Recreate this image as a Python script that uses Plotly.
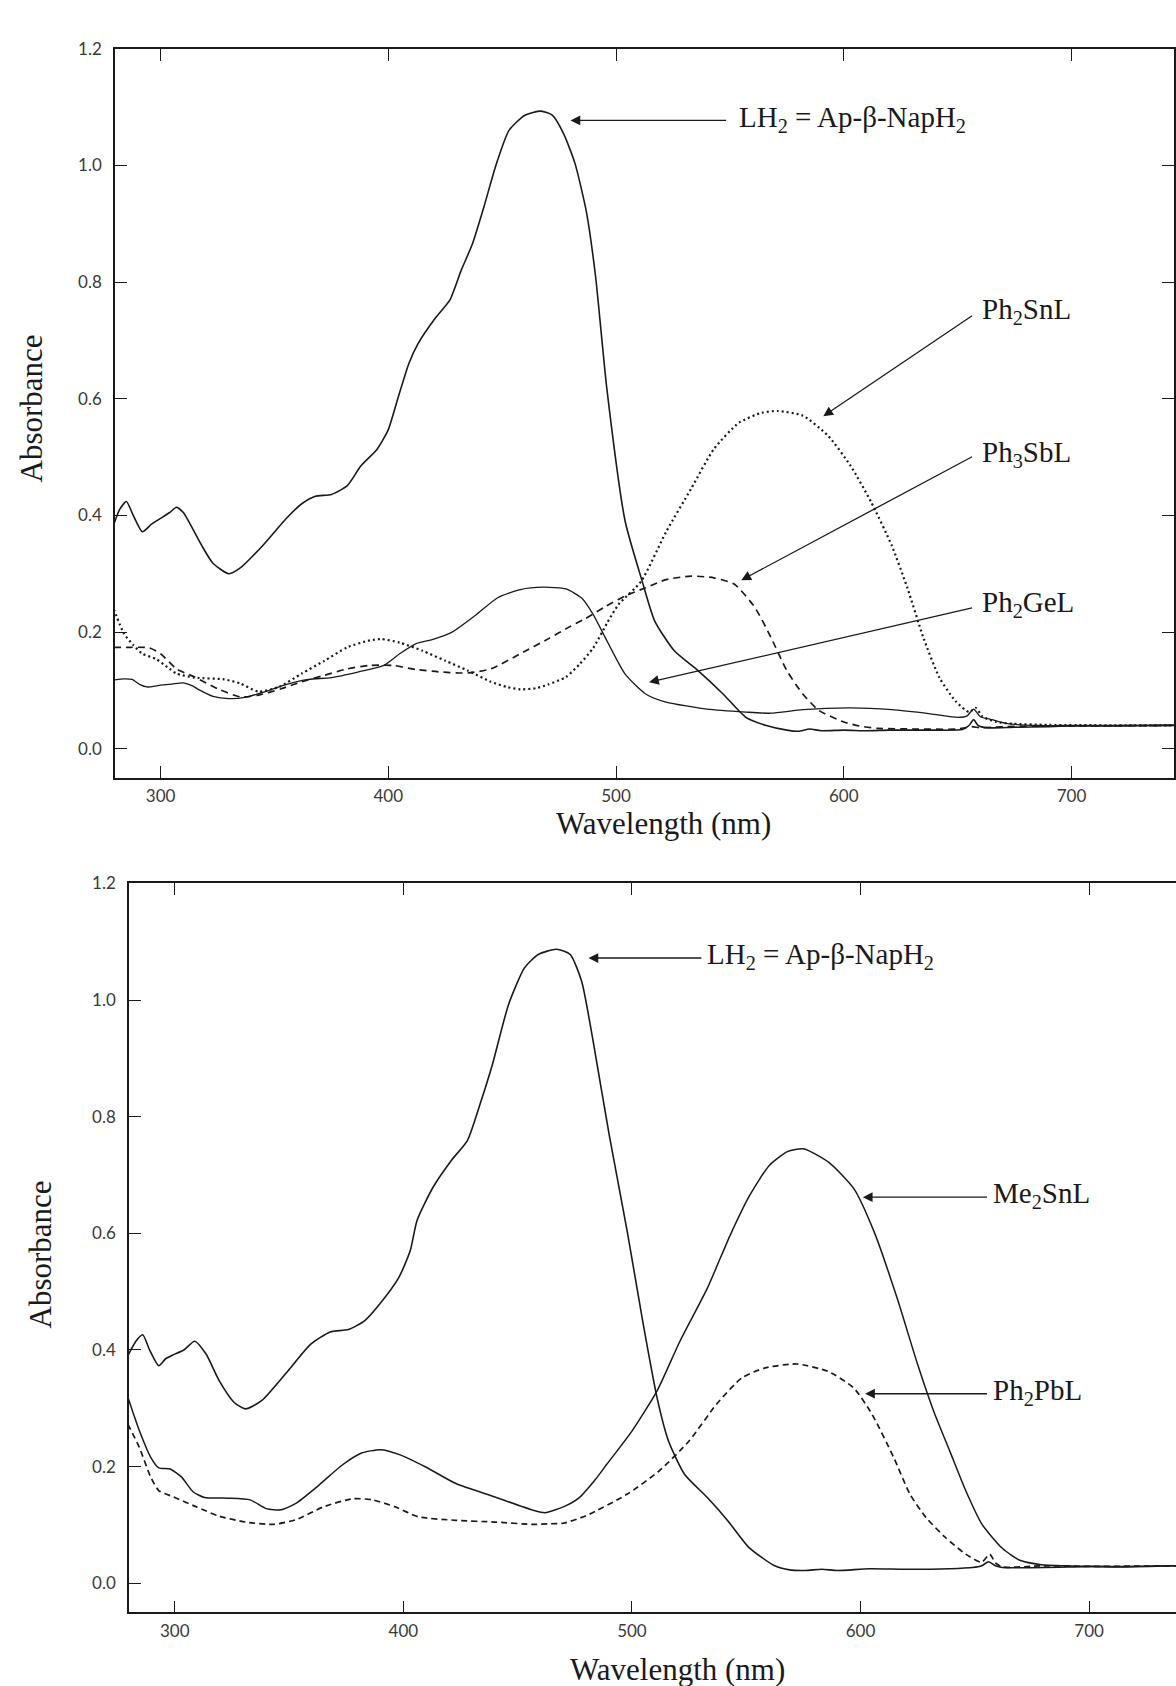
import plotly.graph_objects as go

# ---------------- Top panel data ----------------
top_lh2_wl = [279.5, 282, 285, 288, 292, 296, 300, 304, 307, 310, 313, 318, 323, 330, 335, 345, 355, 362, 368, 375,
              382, 388, 395, 400, 404, 409, 413, 421, 427, 432, 437, 442, 447, 453, 460, 467, 472, 477, 482, 487,
              491, 496, 504, 511.5, 517, 525.6, 536, 547, 557, 566, 575, 580, 585, 590, 600, 610, 620, 640, 652,
              655, 657, 659, 663, 675, 690, 700, 720, 745]
top_lh2_a = [0.385, 0.41, 0.424, 0.40, 0.372, 0.385, 0.395, 0.405, 0.414, 0.405, 0.385, 0.349, 0.318, 0.300, 0.310,
             0.349, 0.394, 0.420, 0.433, 0.436, 0.451, 0.485, 0.513, 0.547, 0.598, 0.660, 0.694, 0.740, 0.769, 0.820,
             0.866, 0.929, 0.997, 1.060, 1.086, 1.093, 1.086, 1.054, 1.003, 0.920, 0.810, 0.616, 0.390, 0.287, 0.219,
             0.168, 0.134, 0.094, 0.054, 0.040, 0.032, 0.030, 0.034, 0.031, 0.032, 0.031, 0.032, 0.032, 0.033,
             0.040, 0.050, 0.040, 0.036, 0.037, 0.038, 0.039, 0.039, 0.040]

top_ge_wl = [279.5, 284, 287.5, 291, 294, 300, 305, 310, 314, 317, 323, 330, 337, 346, 355, 365, 375, 387, 398, 405,
             412, 420, 428, 438, 448, 458, 468, 478, 485, 490, 496, 504, 513, 522, 540, 557, 568, 582, 603, 621,
             638, 650, 654, 657, 660, 665, 672, 685, 700, 720, 745]
top_ge_a = [0.118, 0.120, 0.119, 0.110, 0.106, 0.109, 0.111, 0.113, 0.108, 0.101, 0.090, 0.086, 0.088, 0.098, 0.110,
            0.119, 0.122, 0.132, 0.143, 0.163, 0.180, 0.188, 0.200, 0.228, 0.259, 0.273, 0.277, 0.274, 0.258, 0.230,
            0.185, 0.128, 0.094, 0.080, 0.068, 0.063, 0.061, 0.067, 0.070, 0.067, 0.060, 0.054, 0.056, 0.068, 0.055,
            0.050, 0.043, 0.040, 0.040, 0.040, 0.041]

top_sn_wl = [279.5, 284, 288, 292, 298, 303, 307, 315, 328, 335, 343, 352, 362, 372, 382, 392, 397, 405, 415, 425,
             435, 445, 452, 458, 465, 470, 478, 484, 490, 496, 501, 511, 522, 533, 543, 554, 564, 571, 582, 593,
             603, 612, 621, 628, 635, 642, 649, 655, 658, 661, 667, 674, 690, 745]
top_sn_a = [0.239, 0.197, 0.178, 0.163, 0.154, 0.140, 0.129, 0.122, 0.119, 0.112, 0.098, 0.106, 0.129, 0.151, 0.174,
            0.186, 0.188, 0.182, 0.168, 0.151, 0.134, 0.115, 0.106, 0.102, 0.104, 0.110, 0.123, 0.145, 0.173, 0.215,
            0.247, 0.287, 0.372, 0.446, 0.514, 0.559, 0.576, 0.579, 0.571, 0.537, 0.485, 0.423, 0.349, 0.275, 0.190,
            0.122, 0.082, 0.063, 0.070, 0.055, 0.046, 0.043, 0.041, 0.040]

top_sb_wl = [279.5, 285, 295, 300, 307, 315, 325, 335, 343, 353, 362, 372, 382, 392, 402, 412, 422, 435, 445, 458,
             470, 480, 486, 495, 504, 513, 522, 533, 543, 552, 561, 568, 575, 582, 589, 600, 607, 615, 630, 650,
             656, 660, 670, 745]
top_sb_a = [0.174, 0.174, 0.173, 0.163, 0.137, 0.123, 0.103, 0.089, 0.092, 0.103, 0.115, 0.126, 0.137, 0.143, 0.143,
            0.136, 0.132, 0.130, 0.137, 0.163, 0.188, 0.210, 0.222, 0.243, 0.262, 0.276, 0.290, 0.296, 0.293, 0.282,
            0.242, 0.191, 0.134, 0.094, 0.066, 0.046, 0.039, 0.035, 0.034, 0.034, 0.038, 0.036, 0.038, 0.040]

# ---------------- Bottom panel data ----------------
bot_lh2_wl = [279.5, 283, 286, 289, 293, 296, 299.5, 304, 308.7, 313.7, 319.5, 326, 331, 338, 349.5, 359.5, 368, 376,
              383, 389.5, 398, 403, 406, 413, 421, 428, 434, 439, 446, 453, 459, 467, 473, 478, 483, 490, 498, 505,
              511, 516, 523, 533, 542, 551, 562, 569, 576, 583, 590, 604, 620, 639, 649, 653, 656, 659, 662, 692,
              700, 715, 738]
bot_lh2_a = [0.390, 0.415, 0.426, 0.400, 0.373, 0.385, 0.392, 0.400, 0.415, 0.393, 0.347, 0.310, 0.299, 0.313, 0.364,
             0.410, 0.431, 0.435, 0.450, 0.478, 0.524, 0.570, 0.622, 0.679, 0.725, 0.759, 0.827, 0.890, 0.992, 1.055,
             1.078, 1.087, 1.078, 1.032, 0.930, 0.770, 0.602, 0.443, 0.318, 0.244, 0.187, 0.147, 0.107, 0.062, 0.031,
             0.023, 0.022, 0.024, 0.022, 0.025, 0.024, 0.025, 0.027, 0.030, 0.037, 0.030, 0.027, 0.028, 0.029, 0.028,
             0.030]

bot_me_wl = [279.5, 282, 284.5, 289.5, 293, 298, 303, 308, 313, 323, 333, 340, 346.5, 353, 363, 373, 381.5, 390, 398,
             410, 423, 440, 457, 462, 470, 477, 484, 489, 500, 511, 521, 533, 543, 551.5, 560, 568, 575, 586, 597,
             606, 616, 625, 632, 639, 646, 653, 662, 670, 679, 690, 700, 715, 738]
bot_me_a = [0.319, 0.290, 0.262, 0.216, 0.198, 0.196, 0.182, 0.157, 0.147, 0.146, 0.143, 0.128, 0.126, 0.137, 0.168,
            0.202, 0.223, 0.229, 0.221, 0.199, 0.171, 0.148, 0.125, 0.121, 0.131, 0.147, 0.178, 0.204, 0.261, 0.330,
            0.415, 0.506, 0.597, 0.665, 0.716, 0.740, 0.745, 0.722, 0.677, 0.602, 0.489, 0.375, 0.295, 0.227, 0.159,
            0.102, 0.060, 0.039, 0.032, 0.030, 0.029, 0.029, 0.030]

bot_pb_wl = [279.5, 284.5, 289.5, 293, 299.5, 309.5, 319.5, 331, 343, 353, 365, 378, 386.5, 396.5, 406.5, 423, 440,
             457, 463, 470, 480, 498, 512, 525, 537, 548, 558, 572, 586, 597, 605, 614.6, 621.6, 628.6, 637, 646,
             653, 656.5, 659, 662, 680, 700, 738]
bot_pb_a = [0.273, 0.233, 0.182, 0.159, 0.148, 0.131, 0.115, 0.105, 0.101, 0.109, 0.131, 0.145, 0.143, 0.131, 0.114,
            0.108, 0.105, 0.101, 0.102, 0.103, 0.116, 0.153, 0.193, 0.244, 0.307, 0.352, 0.369, 0.376, 0.363, 0.335,
            0.290, 0.215, 0.153, 0.113, 0.079, 0.050, 0.036, 0.050, 0.035, 0.028, 0.030, 0.029, 0.030]

x_ticks = [300, 400, 500, 600, 700]
y_ticks = [0.0, 0.2, 0.4, 0.6, 0.8, 1.0, 1.2]
y_tick_text = ["0.0", "0.2", "0.4", "0.6", "0.8", "1.0", "1.2"]

INK = "#1a1a1a"
fig = go.Figure()


def add_line(x, y, xa, ya, width, dash):
    fig.add_trace(go.Scatter(x=x, y=y, xaxis=xa, yaxis=ya, mode="lines",
                             line=dict(color=INK, width=width, dash=dash, shape="spline", smoothing=0.6),
                             showlegend=False, hoverinfo="skip"))


add_line(top_lh2_wl, top_lh2_a, "x", "y", 1.6, "solid")
add_line(top_ge_wl, top_ge_a, "x", "y", 1.3, "solid")
add_line(top_sn_wl, top_sn_a, "x", "y", 2.2, "2px,3px")
add_line(top_sb_wl, top_sb_a, "x", "y", 1.7, "7px,5px")

add_line(bot_lh2_wl, bot_lh2_a, "x2", "y2", 1.6, "solid")
add_line(bot_me_wl, bot_me_a, "x2", "y2", 1.5, "solid")
add_line(bot_pb_wl, bot_pb_a, "x2", "y2", 1.7, "6px,4px")

tick_font = dict(family="Lato, Open Sans, sans-serif", size=17, color="#3a3a3a")

xcommon = dict(tickvals=x_ticks, ticks="inside", ticklen=12, tickwidth=1.3, tickcolor=INK,
               showline=True, linecolor=INK, linewidth=1.7, mirror="ticks", showgrid=False, zeroline=False,
               tickfont=tick_font, ticklabelstandoff=2)
ycommon = dict(tickvals=y_ticks, ticktext=y_tick_text, ticks="inside", ticklen=12, tickwidth=1.3, tickcolor=INK,
               showline=True, linecolor=INK, linewidth=1.7, showgrid=False, zeroline=False,
               tickfont=tick_font, ticklabelstandoff=8, range=[-0.05, 1.2])

fig.update_layout(
    width=1176, height=1686, autosize=False,
    margin=dict(l=0, r=0, t=0, b=0),
    paper_bgcolor="white", plot_bgcolor="white",
    xaxis=dict(domain=[0.0978, 0.9983], range=[280, 745], anchor="y", **xcommon),
    yaxis=dict(domain=[0.5421, 0.9775], anchor="x", mirror="ticks", **ycommon),
    xaxis2=dict(domain=[0.1097, 1.0], range=[280, 738], anchor="y2", **xcommon),
    yaxis2=dict(domain=[0.0439, 0.4792], anchor="x2", mirror=False, **ycommon),
)

SERIF = "Liberation Serif, Times New Roman, serif"
lab_font = dict(family=SERIF, size=29, color=INK)
title_font = dict(family=SERIF, size=31, color=INK)

# axis titles
titles = [
    ("Wavelength (nm)", 0.564, 0.5150, 0),
    ("Wavelength (nm)", 0.5757, 0.0101, 0),
    ("Absorbance", 0.0265, 0.7628, -90),
    ("Absorbance", 0.0345, 0.2574, -90),
]
for txt, px, py, ang in titles:
    fig.add_annotation(text=txt, xref="paper", yref="paper", x=px, y=py, showarrow=False,
                       textangle=ang, font=title_font, xanchor="center", yanchor="middle")

# arrows: (xref, yref, head_x, head_y, tail_x, tail_y)
arrows = [
    ("x", "y", 480, 1.077, 549, 1.077),
    ("x", "y", 591, 0.570, 657, 0.744),
    ("x", "y", 555, 0.289, 657, 0.502),
    ("x", "y", 514.5, 0.114, 657, 0.242),
    ("x2", "y2", 481, 1.072, 531, 1.072),
    ("x2", "y2", 601, 0.662, 656, 0.662),
    ("x2", "y2", 602, 0.325, 656, 0.325),
]
for xr, yr, hx, hy, tx, ty in arrows:
    fig.add_annotation(text="", xref=xr, yref=yr, axref=xr, ayref=yr, x=hx, y=hy, ax=tx, ay=ty,
                       showarrow=True, arrowhead=2, arrowsize=1.5, arrowwidth=1.3, arrowcolor=INK)

# labels: (xref, yref, x, y, text)
labels = [
    ("x", "y", 553, 1.080, "LH<sub>2</sub> = Ap-β-NapH<sub>2</sub>"),
    ("x", "y", 660, 0.750, "Ph<sub>2</sub>SnL"),
    ("x", "y", 660, 0.505, "Ph<sub>3</sub>SbL"),
    ("x", "y", 660, 0.248, "Ph<sub>2</sub>GeL"),
    ("x2", "y2", 532, 1.075, "LH<sub>2</sub> = Ap-β-NapH<sub>2</sub>"),
    ("x2", "y2", 657, 0.665, "Me<sub>2</sub>SnL"),
    ("x2", "y2", 657, 0.328, "Ph<sub>2</sub>PbL"),
]
for xr, yr, lx, ly, txt in labels:
    fig.add_annotation(text=txt, xref=xr, yref=yr, x=lx, y=ly, showarrow=False,
                       xanchor="left", yanchor="middle", font=lab_font)

fig.write_html("out.html")
